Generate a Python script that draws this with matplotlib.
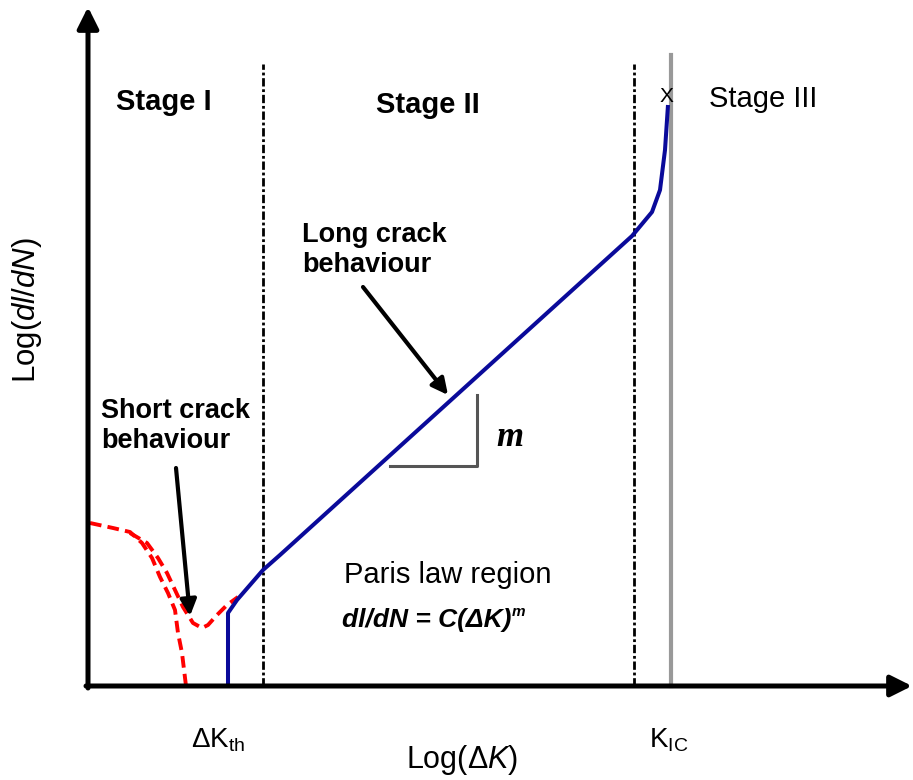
import matplotlib
matplotlib.use('Agg')
import matplotlib.pyplot as plt

plt.rcParams['font.family'] = ['Liberation Sans', 'DejaVu Sans']
plt.rcParams['mathtext.fontset'] = 'custom'
plt.rcParams['mathtext.rm'] = 'Liberation Sans'
plt.rcParams['mathtext.it'] = 'Liberation Sans:italic'
plt.rcParams['mathtext.bf'] = 'Liberation Sans:bold'

# schematic units: origin at the axes corner
long_x = [140, 140, 149, 162, 175, 192, 544, 564, 572, 577, 580]
long_y = [0, 73, 86, 101, 116, 131, 450, 474, 496, 536, 581]

short_a_x = [2, 25, 42, 54, 64, 72, 80, 87, 90, 94, 98]
short_a_y = [163, 158, 154, 143, 128, 109, 93, 76, 53, 33, 0]

short_b_x = [42, 59, 70, 79, 87, 95, 105, 114, 120, 129, 139, 150]
short_b_y = [153, 143, 128, 113, 96, 79, 63, 58, 61, 71, 81, 89]

k_th = 175
k_c = 546
k_ic = 583
stage_top = 622

slope_x = [302, 389, 389]
slope_y = [220, 220, 291]

x_max, y_max = 824, 679

fig = plt.figure(figsize=(9.13, 7.80), dpi=100)
ax = fig.add_axes([0, 0, 1, 1])
ax.set_xlim(-88, 825)
ax.set_ylim(-94, 686)
ax.axis('off')

# axes with arrows
ax.annotate('', xy=(0, y_max), xytext=(0, -2),
            arrowprops=dict(arrowstyle='-|>', lw=3.6, color='black',
                            mutation_scale=32, shrinkA=0, shrinkB=0))
ax.annotate('', xy=(x_max, 0), xytext=(-2, 0),
            arrowprops=dict(arrowstyle='-|>', lw=3.6, color='black',
                            mutation_scale=32, shrinkA=0, shrinkB=0))

# stage boundaries
ax.plot([k_th, k_th], [0, stage_top], color='black', lw=2,
        linestyle=(0, (3, 1, 1, 1)))
ax.plot([k_c, k_c], [0, stage_top], color='black', lw=2,
        linestyle=(0, (3, 1, 1, 1)))
ax.plot([k_ic, k_ic], [0, stage_top + 9], color='#999999', lw=3)

# crack growth curves
ax.plot(short_a_x, short_a_y, color='red', lw=2.8, linestyle=(0, (3, 1.6)))
ax.plot(short_b_x, short_b_y, color='red', lw=2.8, linestyle=(0, (3, 1.6)))
ax.plot(long_x, long_y, color='#0a0a9a', lw=2.9, solid_capstyle='butt')

# slope triangle
ax.plot(slope_x, slope_y, color='#555555', lw=2.2)
ax.text(422, 249, 'm', fontsize=25, style='italic', weight='bold',
        family='Liberation Serif', ha='center', va='center')

# labels
ax.text(76, 584, 'Stage I', fontsize=21, weight='bold', ha='center', va='center')
ax.text(340, 581, 'Stage II', fontsize=21, weight='bold', ha='center', va='center')
ax.text(675, 587, 'Stage III', fontsize=21, ha='center', va='center')
ax.text(578, 590, 'X', fontsize=15, ha='center', va='center')

ax.text(13, 260, 'Short crack\nbehaviour', fontsize=19.5, weight='bold',
        ha='left', va='center', linespacing=1.2)
ax.text(214, 436, 'Long crack\nbehaviour', fontsize=19.5, weight='bold',
        ha='left', va='center', linespacing=1.2)

ax.annotate('', xy=(102, 70), xytext=(88, 218),
            arrowprops=dict(arrowstyle='-|>', lw=3, color='black',
                            mutation_scale=24, shrinkA=0, shrinkB=0))
ax.annotate('', xy=(360, 291), xytext=(275, 399),
            arrowprops=dict(arrowstyle='-|>', lw=3, color='black',
                            mutation_scale=24, shrinkA=0, shrinkB=0))

ax.text(360, 111, 'Paris law region', fontsize=21, ha='center', va='center')
eq = ax.text(254, 66, 'dl/dN = C(ΔK)', fontsize=19, weight='bold',
             style='italic', ha='left', va='center')
ax.annotate('m', xy=(1, 0.85), xycoords=eq, fontsize=11, weight='bold',
            style='italic', ha='left', va='center')

ax.text(-61, 376, 'Log($dl/dN$)', fontsize=22.5, rotation=90,
        ha='center', va='center')
ax.text(374, -74, 'Log($\\mathit{ΔK}$)', fontsize=22, ha='center', va='center')
ax.text(130, -54, 'ΔK$_{\\mathrm{th}}$', fontsize=20, ha='center', va='center')
ax.text(581, -54, 'K$_{\\mathrm{IC}}$', fontsize=20, ha='center', va='center')

fig.savefig('out.png', dpi=100)
